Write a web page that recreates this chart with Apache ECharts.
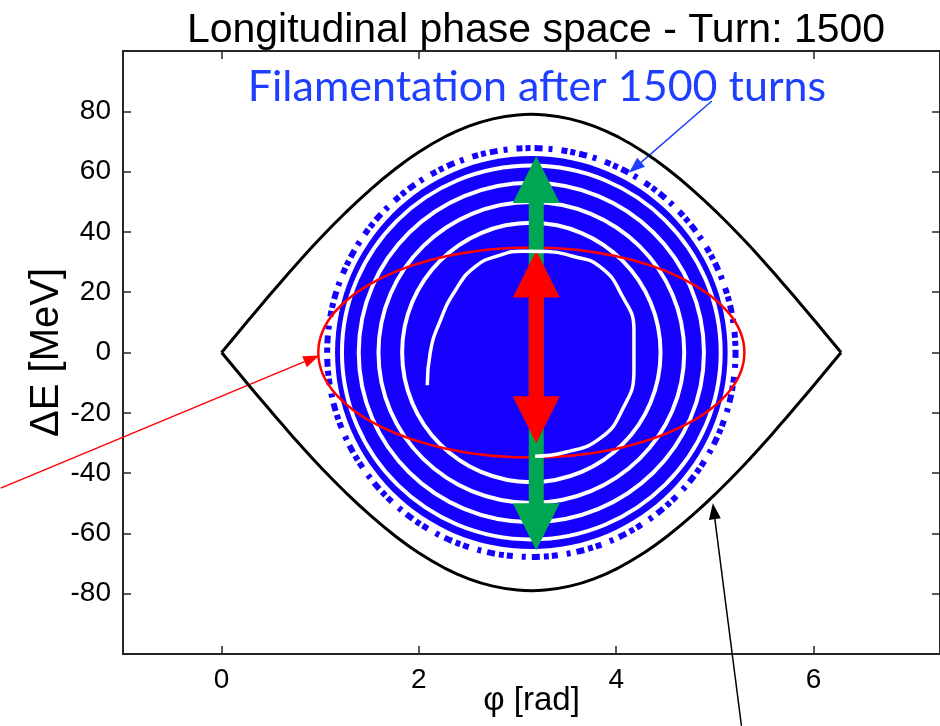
<!DOCTYPE html>
<html lang="en">
<head>
<meta charset="UTF-8">
<title>Longitudinal phase space</title>
<script src="https://cdn.jsdelivr.net/npm/echarts@6/dist/echarts.min.js"></script>
<style>
  html, body { margin: 0; padding: 0; background: #fff; }
  #main { width: 940px; height: 726px; }
</style>
</head>
<body>
<div id="main"></div>
<script>
// separatrix (black curve)
var sepPhi   = [0, 0.2, 0.4, 0.6, 0.8, 1.0, 1.25, 1.5, 1.75, 2.0, 2.25, 2.5, 2.75, 3.0, 3.14,
                3.28, 3.53, 3.78, 4.03, 4.28, 4.53, 4.78, 5.03, 5.28, 5.48, 5.68, 5.88, 6.08, 6.28];
var sepUpper = [0, 7.9, 15.7, 23.3, 30.8, 37.9, 46.2, 53.8, 60.6, 66.5, 71.3, 75.0, 77.5, 78.8, 79.0,
                78.8, 77.5, 75.0, 71.3, 66.5, 60.6, 53.8, 46.2, 37.9, 30.8, 23.3, 15.7, 7.9, 0];
var sepLower = [0, -7.9, -15.7, -23.3, -30.8, -37.9, -46.2, -53.8, -60.6, -66.5, -71.3, -75.0, -77.5, -78.8, -79.0,
                -78.8, -77.5, -75.0, -71.3, -66.5, -60.6, -53.8, -46.2, -37.9, -30.8, -23.3, -15.7, -7.9, 0];

// beam particles (blue): [phi centre, dE centre, half width rad, half height MeV]
var beamBody = [[3.14, 0, 1.99, 65.2]];
var beamHalo = [[3.14, 0, 2.07, 67.8]];
var beamGaps = [[3.14, 0, 1.92, 62.0], [3.14, 0, 1.75, 56.3], [3.14, 0, 1.55, 49.9], [3.14, 0, 1.31, 43.0]];
// innermost filament gap (partial spiral)
var innerGapPhi = [2.085, 2.115, 2.217, 2.368, 2.571, 2.824, 3.05, 3.30, 3.55, 3.836, 4.059, 4.180, 4.180, 4.059, 3.836, 3.482, 3.178];
var innerGapDE  = [-10.9, 0, 10.6, 20.5, 28.5, 32.3, 33.6, 33.5, 32.0, 28.5, 18.9, 7.3, -6.0, -19.2, -28.5, -33.1, -34.4];

// matched ellipse (red)
var matched = [[3.14, 0, 2.16, 34.8]];

// double arrows: [phi, top tip dE, bottom tip dE]
var greenArrow = [[3.19, 65.2, -65.6]];
var redArrow   = [[3.19, 33.8, -30.1]];

// pointers: [tail phi, tail dE, tip phi, tip dE]
var bluePointer  = [[4.97, 83.4, 4.13, 59.6]];
var redPointer   = [[-2.24, -45.0, 0.99, -1.0]];
var blackPointer = [[5.27, -123.8, 4.98, -50.0]];

var xTicks = [0, 2, 4, 6];
var yTicks = [-80, -60, -40, -20, 0, 20, 40, 60, 80];

var BLUE = '#1500ff';
var FONT = 'Liberation Sans';

function pairs(xs, ys) {
    var a = [];
    for (var i = 0; i < xs.length; i++) a.push([xs[i], ys[i]]);
    return a;
}

function ellipse(style) {
    return function (params, api) {
        var c = api.coord([api.value(0), api.value(1)]);
        var s = api.size([api.value(2), api.value(3)]);
        return { type: 'ellipse', shape: { cx: c[0], cy: c[1], rx: s[0], ry: s[1] }, style: style };
    };
}

function doubleArrow(color) {
    return function (params, api) {
        var top = api.coord([api.value(0), api.value(1)]);
        var bot = api.coord([api.value(0), api.value(2)]);
        var x = top[0], hl = 47, hw = 23.5, sw = 7.5;
        return { type: 'group', children: [
            { type: 'rect', shape: { x: x - sw, y: top[1] + hl - 1, width: 2 * sw, height: bot[1] - top[1] - 2 * hl + 2 }, style: { fill: color } },
            { type: 'polygon', shape: { points: [[x, top[1]], [x - hw, top[1] + hl], [x + hw, top[1] + hl]] }, style: { fill: color } },
            { type: 'polygon', shape: { points: [[x, bot[1]], [x - hw, bot[1] - hl], [x + hw, bot[1] - hl]] }, style: { fill: color } }
        ] };
    };
}

function pointer(color, width) {
    return function (params, api) {
        var a = api.coord([api.value(0), api.value(1)]);
        var b = api.coord([api.value(2), api.value(3)]);
        var dx = b[0] - a[0], dy = b[1] - a[1];
        var len = Math.sqrt(dx * dx + dy * dy), ux = dx / len, uy = dy / len;
        var hl = 16, hw = 6;
        var base = [b[0] - ux * hl, b[1] - uy * hl];
        return { type: 'group', children: [
            { type: 'line', shape: { x1: a[0], y1: a[1], x2: base[0], y2: base[1] }, style: { stroke: color, lineWidth: width } },
            { type: 'polygon', shape: { points: [b, [base[0] - uy * hw, base[1] + ux * hw], [base[0] + uy * hw, base[1] - ux * hw]] }, style: { fill: color } }
        ] };
    };
}

var frame = { show: true, onZero: false, lineStyle: { color: '#262626', width: 2 } };
var tickStyle = { color: '#262626', width: 1.5 };

var myChart = echarts.init(document.getElementById('main'));
var option = {
    animation: false,
    backgroundColor: '#fff',
    title: [
        { text: 'Longitudinal phase space - Turn: 1500', left: 531, top: 5, textAlign: 'center',
          textStyle: { fontFamily: FONT, fontSize: 41, fontWeight: 'normal', color: '#000' } },
        { text: 'Filamentation after 1500 turns', left: 532, top: 61, textAlign: 'center',
          textStyle: { fontFamily: 'Lato', fontSize: 43, fontWeight: 'normal', color: '#1f3fff' } }
    ],
    grid: { left: 123, right: 0, top: 51, bottom: 72, outerBoundsMode: 'none' },
    xAxis: [
        { type: 'value', min: -1, max: 7.2832, position: 'bottom',
          axisLine: frame, splitLine: { show: false },
          axisTick: { inside: true, length: 8, customValues: xTicks, lineStyle: tickStyle },
          axisLabel: { customValues: xTicks, margin: 12, fontFamily: FONT, fontSize: 28, color: '#000' },
          name: 'φ [rad]', nameLocation: 'middle', nameGap: 30, nameMoveOverlap: false,
          nameTextStyle: { fontFamily: FONT, fontSize: 33, color: '#000' } },
        { type: 'value', min: -1, max: 7.2832, position: 'top',
          axisLine: frame, splitLine: { show: false }, axisLabel: { show: false },
          axisTick: { inside: true, length: 8, customValues: xTicks, lineStyle: tickStyle } }
    ],
    yAxis: [
        { type: 'value', min: -100, max: 100, interval: 20, position: 'left',
          axisLine: frame, splitLine: { show: false },
          axisTick: { inside: true, length: 8, customValues: yTicks, lineStyle: tickStyle },
          axisLabel: { customValues: yTicks, margin: 12, fontFamily: FONT, fontSize: 28, color: '#000' },
          name: 'ΔE [MeV]', nameLocation: 'middle', nameGap: 56, nameMoveOverlap: false,
          nameTextStyle: { fontFamily: FONT, fontSize: 40, color: '#000' } },
        { type: 'value', min: -100, max: 100, interval: 20, position: 'right',
          axisLine: frame, splitLine: { show: false }, axisLabel: { show: false },
          axisTick: { inside: true, length: 8, customValues: yTicks, lineStyle: tickStyle } }
    ],
    series: [
        { type: 'custom', name: 'beam', clip: true, data: beamBody,
          renderItem: ellipse({ fill: BLUE }) },
        { type: 'custom', name: 'halo', clip: true, data: beamHalo,
          renderItem: ellipse({ fill: 'none', stroke: BLUE, lineWidth: 6, lineDash: [5, 4, 8, 6, 4, 9, 6, 3] }) },
        { type: 'custom', name: 'filament gaps', clip: true, data: beamGaps,
          renderItem: ellipse({ fill: 'none', stroke: '#fff', lineWidth: 4 }) },
        { type: 'line', name: 'inner gap', data: pairs(innerGapPhi, innerGapDE), smooth: true,
          symbol: 'none', lineStyle: { color: '#fff', width: 3.5 } },
        { type: 'line', name: 'separatrix', data: pairs(sepPhi, sepUpper), smooth: true,
          symbol: 'none', lineStyle: { color: '#000', width: 3 } },
        { type: 'line', name: 'separatrix', data: pairs(sepPhi, sepLower), smooth: true,
          symbol: 'none', lineStyle: { color: '#000', width: 3 } },
        { type: 'custom', name: 'matched', clip: true, data: matched,
          renderItem: ellipse({ fill: 'none', stroke: '#ff0000', lineWidth: 2.5 }) },
        { type: 'custom', name: 'green arrow', data: greenArrow, renderItem: doubleArrow('#00a651') },
        { type: 'custom', name: 'red arrow', data: redArrow, renderItem: doubleArrow('#ff0000') },
        { type: 'custom', name: 'blue pointer', clip: false, data: bluePointer, renderItem: pointer('#1f3fff', 1.5) },
        { type: 'custom', name: 'red pointer', clip: false, data: redPointer, renderItem: pointer('#ff0000', 1.5) },
        { type: 'custom', name: 'black pointer', clip: false, data: blackPointer, renderItem: pointer('#000', 1.5) }
    ]
};
myChart.setOption(option);
</script>
</body>
</html>
